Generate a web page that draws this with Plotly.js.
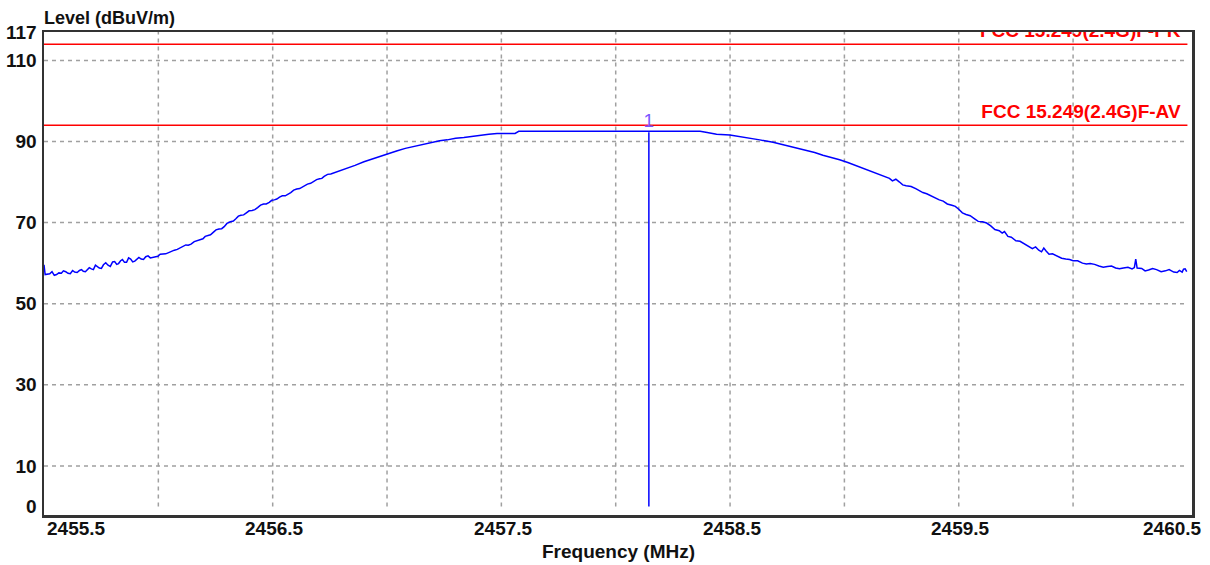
<!DOCTYPE html>
<html>
<head>
<meta charset="utf-8">
<script src="https://cdn.plot.ly/plotly-3.0.1.min.js"></script>
<style>html,body{margin:0;padding:0;background:#fff}#chart{width:1210px;height:565px}</style>
</head>
<body>
<div id="chart"></div>
<script>
// ---- data ----
const freqMHz = [
  2455.500,2455.505,2455.525,2455.545,2455.565,2455.576,2455.595,2455.615,2455.634,2455.655,
  2455.672,2455.690,2455.707,2455.725,2455.742,2455.760,2455.780,2455.800,2455.818,2455.835,
  2455.852,2455.870,2455.888,2455.905,2455.925,2455.945,2455.965,2455.998,2456.020,2456.045,
  2456.070,2456.095,2456.120,2456.143,2456.170,2456.195,2456.216,2456.240,2456.265,2456.288,
  2456.315,2456.340,2456.361,2456.385,2456.410,2456.434,2456.460,2456.485,2456.507,2456.530,
  2456.555,2456.579,2456.605,2456.630,2456.652,2456.680,2456.705,2456.725,2456.754,2456.790,
  2456.827,2456.860,2456.899,2456.935,2456.972,2457.010,2457.045,2457.080,2457.117,2457.155,
  2457.190,2457.230,2457.263,2457.300,2457.336,2457.370,2457.408,2457.445,2457.481,2457.560,
  2457.576,2458.369,2458.400,2458.441,2458.499,2458.535,2458.572,2458.630,2458.688,2458.725,
  2458.761,2458.800,2458.834,2458.870,2458.906,2458.945,2458.979,2459.015,2459.052,2459.090,
  2459.124,2459.160,2459.197,2459.241,2459.270,2459.314,2459.343,2459.380,2459.415,2459.450,
  2459.500,2459.532,2459.568,2459.604,2459.640,2459.677,2459.700,2459.715,2459.750,2459.785,
  2459.822,2459.850,2459.872,2459.895,2459.930,2459.968,2460.000,2460.041,2460.075,2460.113,
  2460.150,2460.186,2460.220,2460.268,2460.274,2460.280,2460.330,2460.365,2460.404,2460.440,
  2460.465,2460.477,2460.490,2460.497,
  // extra readings of the noisy skirts
  2455.535,2455.555,2455.585,2455.605,2455.625,2455.645,2455.664,2455.681,2455.698,2455.716,
  2455.733,2455.751,2455.770,2455.790,2455.809,2455.826,2455.843,2455.861,2455.879,2455.897,
  2455.915,2455.935,2455.955,2455.980,2456.008,2456.032,2456.058,2456.083,2456.108,2456.131,
  2456.157,2456.182,2456.205,2456.228,2456.252,2456.277,2456.300,2456.328,2456.350,2456.373,
  2456.397,2456.422,2456.447,2456.472,2456.496,2456.518,2456.542,2456.567,2456.592,2456.618,
  2456.641,2456.666,2456.692,2456.715,2456.740,
  2459.210,2459.225,2459.255,2459.292,2459.330,2459.360,2459.398,2459.432,2459.470,2459.485,
  2459.516,2459.550,2459.585,2459.622,2459.658,2459.690,2459.708,2459.730,2459.768,2459.800,
  2459.836,2459.862,2459.882,2459.910,2459.950,2459.985,2460.020,2460.058,2460.094,2460.132,
  2460.168,2460.203,2460.240,2460.258,2460.300,2460.315,2460.348,2460.385,2460.420,2460.455,
  2460.483
];
const levelDbuV = [
  59.6,57.2,57.4,57.0,57.6,57.5,57.9,57.4,57.8,58.2,
  58.0,58.5,58.6,59.5,58.8,59.6,59.5,60.3,59.7,60.6,
  60.2,61.3,60.3,61.0,61.0,61.6,61.3,61.7,62.3,62.6,
  63.2,63.8,64.5,64.7,65.6,66.0,66.8,67.6,68.4,69.0,
  70.2,71.0,71.8,72.4,73.0,73.7,74.6,75.0,75.6,76.3,
  76.6,77.4,78.3,78.8,79.5,80.2,80.8,81.4,82.0,82.7,
  83.3,84.1,85.0,85.7,86.4,87.1,87.7,88.3,88.8,89.3,
  89.8,90.2,90.4,90.8,91.0,91.3,91.6,91.8,92.0,92.0,
  92.5,92.5,92.2,91.8,91.6,91.3,91.0,90.4,89.8,89.3,
  88.9,88.4,87.9,87.3,86.6,86.1,85.5,84.8,84.0,83.3,
  82.5,81.6,80.9,80.0,79.1,78.3,77.4,76.5,75.6,74.6,
  73.3,72.0,71.0,70.2,69.2,68.0,67.8,66.6,65.5,64.8,
  63.6,63.2,63.7,62.2,61.8,61.0,60.6,60.0,59.9,59.3,
  59.2,58.8,58.8,58.9,61.0,58.8,58.3,58.4,58.1,57.8,
  58.2,57.8,58.6,57.9,
  57.9,57.2,58.1,57.5,58.2,57.7,58.4,57.9,58.9,58.4,
  59.2,58.7,60.1,59.2,60.4,59.9,60.9,60.2,61.0,60.5,
  61.4,60.9,61.8,61.4,62.2,62.3,63.0,63.4,64.3,64.4,
  65.3,65.7,66.6,67.0,68.2,68.5,69.8,70.4,71.6,71.9,
  72.9,73.2,74.3,74.6,75.5,75.8,76.6,76.9,78.0,78.4,
  79.3,79.7,80.6,80.9,81.9,
  80.3,80.7,79.3,78.9,77.7,77.1,76.0,75.3,74.3,74.0,
  72.4,71.7,70.3,69.9,68.3,67.4,67.3,66.4,65.4,64.3,
  64.0,62.8,63.0,62.3,61.2,60.9,60.6,59.8,59.7,59.0,
  59.3,58.6,59.0,58.6,58.7,58.1,58.7,57.9,58.4,57.7,
  58.5
];

const limitNames  = ["FCC 15.249(2.4G)F-PK", "FCC 15.249(2.4G)F-AV"];
const limitLevels = [114, 94];
const limitSpan   = [2455.5, 2460.5];

const markerLabel = "1";
const markerFreq  = 2458.145;
const markerLevel = 92.3;

const xTickVals   = [2455.5, 2456.5, 2457.5, 2458.5, 2459.5, 2460.5];
const xTickText   = ["2455.5", "2456.5", "2457.5", "2458.5", "2459.5", "2460.5"];
const xGridVals   = [2456.0, 2456.5, 2457.0, 2457.5, 2458.0, 2458.5, 2459.0, 2459.5, 2460.0];
const yTickVals   = [0, 10, 30, 50, 70, 90, 110, 117];
const yTickText   = ["0", "10", "30", "50", "70", "90", "110", "117"];
const yGridVals   = [10, 30, 50, 70, 90, 110];

const xTitle = "Frequency (MHz)";
const yTitle = "Level (dBuV/m)";

// ---- build chart ----
const FONT = "Liberation Sans, Arial, sans-serif";
const order = freqMHz.map((f, i) => i).sort((a, b) => freqMHz[a] - freqMHz[b]);
const traceX = order.map(i => freqMHz[i]);
const traceY = order.map(i => levelDbuV[i]);

const labelLift = 0.7;   // label sits a little above its limit line
const traces = [];

limitLevels.forEach((lv, i) => {
  traces.push({
    x: limitSpan, y: [lv, lv], mode: "lines", type: "scatter",
    line: {color: "#ff0000", width: 1.5}, hoverinfo: "skip", showlegend: false
  });
  traces.push({
    x: [2460.47], y: [lv + labelLift], mode: "text", type: "scatter", text: [limitNames[i]],
    textposition: "top left", cliponaxis: true,
    textfont: {family: FONT, size: 19, color: "#ff0000", weight: "bold"},
    hoverinfo: "skip", showlegend: false
  });
});

traces.push({
  x: traceX, y: traceY, mode: "lines", type: "scatter",
  line: {color: "#0000ff", width: 1.5}, showlegend: false
});

traces.push({
  x: [markerFreq, markerFreq], y: [0, markerLevel], mode: "lines", type: "scatter",
  line: {color: "#0000ff", width: 1.5}, hoverinfo: "skip", showlegend: false
});
traces.push({
  x: [markerFreq], y: [markerLevel], mode: "text", type: "scatter", text: [markerLabel],
  textposition: "top center", cliponaxis: false,
  textfont: {family: FONT, size: 19, color: "#7a55ff"},
  hoverinfo: "skip", showlegend: false
});

const shapes = [];
xGridVals.forEach(v => shapes.push({
  type: "line", layer: "below", xref: "x", yref: "y",
  x0: v, x1: v, y0: 0, y1: 117,
  line: {color: "#a0a0a0", width: 1.5, dash: "4px,4px"}
}));
yGridVals.forEach(v => shapes.push({
  type: "line", layer: "below", xref: "x", yref: "y",
  x0: limitSpan[0], x1: limitSpan[1], y0: v, y1: v,
  line: {color: "#a0a0a0", width: 1.5, dash: "4px,4px"}
}));

const annotations = [];
xTickVals.forEach((v, i) => {
  const last = i === xTickVals.length - 1, first = i === 0;
  annotations.push({
    x: v, y: 0, xref: "x", yref: "paper",
    text: xTickText[i], showarrow: false,
    xanchor: first ? "left" : (last ? "right" : "center"),
    xshift: first ? 1 : (last ? 17 : 2),
    yanchor: "middle", yshift: -13,
    font: {family: FONT, size: 19, color: "#111", weight: "bold"}
  });
});
annotations.push({
  x: 0.5, y: 0, xref: "paper", yref: "paper", text: xTitle, showarrow: false,
  xanchor: "center", yanchor: "middle", yshift: -36,
  font: {family: FONT, size: 19, color: "#111", weight: "bold"}
});
annotations.push({
  x: 0, y: 1, xref: "paper", yref: "paper", text: yTitle, showarrow: false,
  xanchor: "left", yanchor: "middle", yshift: 14, xshift: -2,
  font: {family: FONT, size: 18, color: "#111", weight: "bold"}
});

const layout = {
  width: 1210, height: 565,
  margin: {l: 44, r: 18, t: 32, b: 50, pad: 0},
  paper_bgcolor: "#ffffff", plot_bgcolor: "#ffffff",
  showlegend: false,
  xaxis: {
    range: [2455.5, 2460.52], showgrid: false, zeroline: false,
    showticklabels: false, ticks: "",
    showline: true, mirror: true, linecolor: "#333333", linewidth: 2.5
  },
  yaxis: {
    range: [-2.1, 117], showgrid: false, zeroline: false,
    tickvals: yTickVals, ticktext: yTickText, ticks: "",
    ticklabelstandoff: 1,
    tickfont: {family: FONT, size: 19, color: "#111", weight: "bold"},
    showline: true, mirror: true, linecolor: "#333333", linewidth: 2.5
  },
  shapes: shapes,
  annotations: annotations
};

Plotly.newPlot("chart", traces, layout, {staticPlot: true, displayModeBar: false});
</script>
</body>
</html>
